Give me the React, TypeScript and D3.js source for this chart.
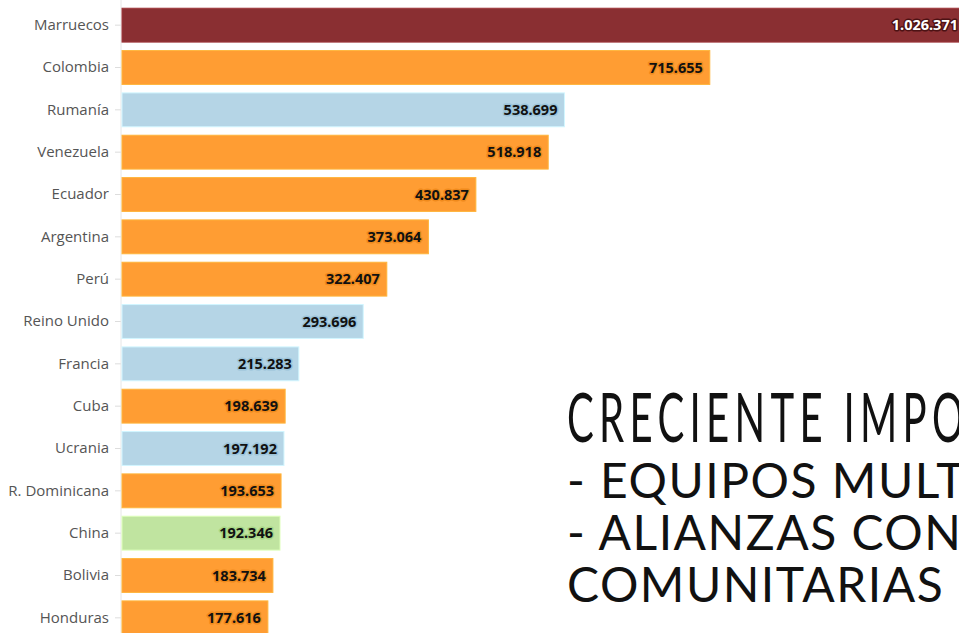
import React, { useRef, useEffect } from "react";
import * as d3 from "d3";

const countries = [
  "Marruecos",
  "Colombia",
  "Rumanía",
  "Venezuela",
  "Ecuador",
  "Argentina",
  "Perú",
  "Reino Unido",
  "Francia",
  "Cuba",
  "Ucrania",
  "R. Dominicana",
  "China",
  "Bolivia",
  "Honduras",
];
const residents = [
  1026371, 715655, 538699, 518918, 430837, 373064, 322407, 293696, 215283,
  198639, 197192, 193653, 192346, 183734, 177616,
];
// region group per bar: africa, america, europe, asia
const groups = [
  "africa", "america", "europe", "america", "america", "america", "america",
  "europe", "europe", "america", "europe", "america", "asia", "america", "america",
];
const overlayLines = [
  "- EQUIPOS MULTIDISCIPLINARES",
  "- ALIANZAS CON ENTIDADES",
  "COMUNITARIAS",
];
const overlayTitle = "CRECIENTE IMPORTANCIA";

const fills: Record<string, string> = {
  africa: "#8a2f32",
  america: "#ff9d33",
  europe: "#b5d5e6",
  asia: "#c0e4a0",
};
const halos: Record<string, string> = {
  africa: "#4d1214",
  america: "#f08a1c",
  europe: "#9cc4da",
  asia: "#a8d686",
};

const fmt = (v: number) => d3.format(",")(v).replace(/,/g, ".");

const App = () => {
  const svgRef = useRef<SVGSVGElement>(null);

  useEffect(() => {
    if (!svgRef.current) return;
    const height = 633;
    const left = 122;

    const svg = d3.select(svgRef.current);
    svg.selectAll("*").remove();

    const data = countries.map((c, i) => ({
      name: c,
      value: residents[i],
      group: groups[i],
    }));

    const x = d3.scaleLinear().domain([0, 1026371]).range([left, 965]);
    const y = d3
      .scaleBand()
      .domain(countries)
      .range([4, 639])
      .paddingInner(0.2)
      .paddingOuter(0.1);

    // left axis
    const axis = svg
      .append("g")
      .attr("transform", `translate(${left - 1},0)`)
      .call(d3.axisLeft(y).tickSize(6).tickPadding(6))
      .call((g) => g.select(".domain").remove())
      .call((g) => g.selectAll(".tick line").attr("stroke", "#ddd"))
      .call((g) =>
        g
          .selectAll(".tick text")
          .attr("fill", "#555")
          .style("font-family", "'Open Sans', 'Noto Sans', sans-serif")
          .style("font-size", "15px")
      );
    axis
      .append("line")
      .attr("y1", 0)
      .attr("y2", height)
      .attr("stroke", "#e6e6e6");

    // bars
    svg
      .append("g")
      .selectAll("rect")
      .data(data)
      .join("rect")
      .attr("x", left)
      .attr("y", (d) => y(d.name)!)
      .attr("width", (d) => x(d.value) - left)
      .attr("height", y.bandwidth())
      .attr("fill", (d) => fills[d.group])
      .attr("stroke", (d) => d3.color(fills[d.group])!.brighter(0.4).toString())
      .attr("stroke-width", 1);

    // value labels
    svg
      .append("g")
      .selectAll("text")
      .data(data)
      .join("text")
      .attr("x", (d) => x(d.value) - 7)
      .attr("y", (d) => y(d.name)! + y.bandwidth() / 2)
      .attr("dy", "0.35em")
      .attr("text-anchor", "end")
      .style("font-family", "'Noto Sans', sans-serif")
      .style("font-size", "14.5px")
      .style("font-weight", "bold")
      .style("paint-order", "stroke")
      .attr("stroke", (d) => halos[d.group])
      .attr("stroke-width", 3)
      .attr("stroke-linejoin", "round")
      .attr("fill", (d) => (d.group === "africa" ? "#fff" : "#111"))
      .text((d) => fmt(d.value));

    // overlay title
    svg
      .append("text")
      .attr("transform", "translate(567,442) scale(0.59,1)")
      .style("font-family", "Lato, sans-serif")
      .style("font-size", "68px")
      .style("letter-spacing", "9px")
      .attr("fill", "#111")
      .text(overlayTitle);

    svg
      .append("g")
      .selectAll("text")
      .data(overlayLines)
      .join("text")
      .attr("x", 567)
      .attr("y", (_, i) => 498 + i * 52)
      .style("font-family", "Lato, sans-serif")
      .style("font-size", "48px")
      .style("letter-spacing", "1.5px")
      .attr("fill", "#111")
      .text((d) => d);
  }, []);

  return (
    <svg
      ref={svgRef}
      width={959}
      height={633}
      style={{ position: "absolute", left: 0, top: 0, overflow: "hidden", background: "#fff" }}
    ></svg>
  );
};

export default App;
